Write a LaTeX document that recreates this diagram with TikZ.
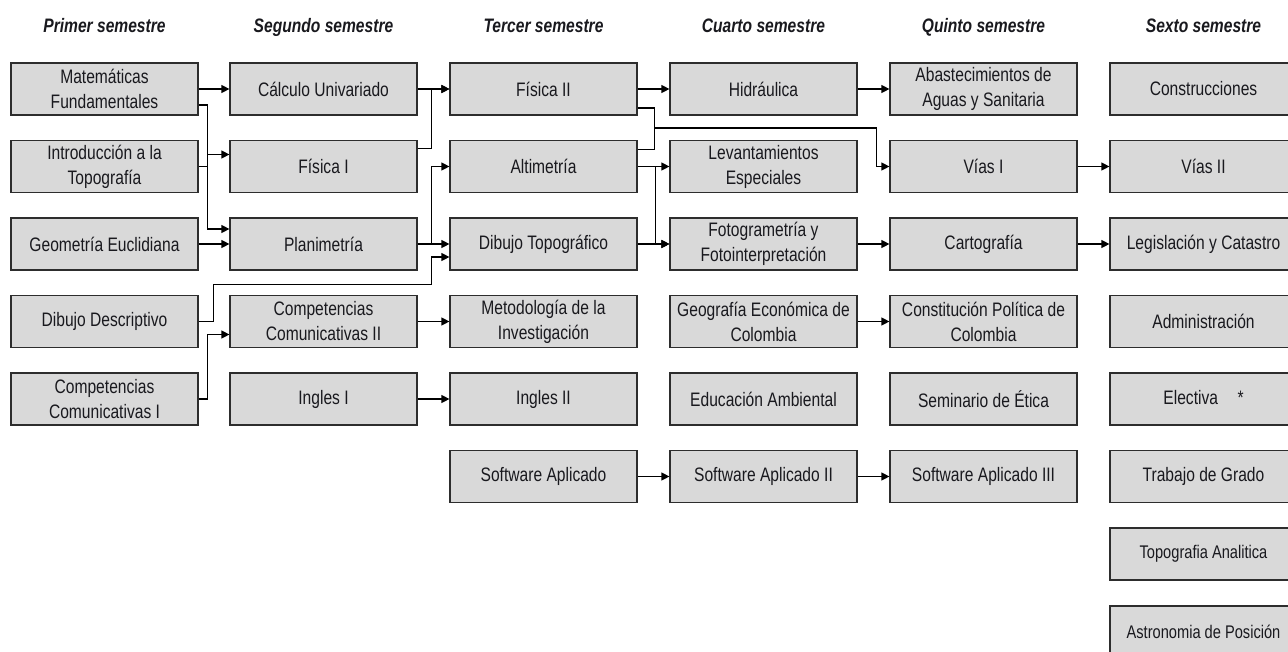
\documentclass[tikz,border=0pt]{standalone}
\usepackage{fontspec}
\setmainfont{Liberation Sans}[FakeStretch=0.8]
\usetikzlibrary{arrows.meta,calc}
\definecolor{boxfill}{RGB}{217,217,217}
\definecolor{boxline}{RGB}{45,45,45}
\definecolor{txt}{RGB}{25,25,30}
\begin{document}
\begin{tikzpicture}[x=1pt,y=-1pt,
  course/.style={draw=boxline, line width=1.2pt, fill=boxfill, minimum width=187pt, minimum height=52pt, inner sep=0pt, align=center, font=\fontsize{19.5}{25}\selectfont, text=txt},
  small/.style={font=\fontsize{18.3}{24}\selectfont},
  head/.style={font=\fontsize{19.5}{22}\selectfont\bfseries\itshape, text=txt, anchor=base},
  arr/.style={line width=1.2pt, -{Triangle[length=8pt,width=8pt]}},
  link/.style={line width=1.2pt}]
\useasboundingbox (0,0) rectangle (1288,651);
\clip (0,0) rectangle (1288,651);
% headers
\node[head] (h1) at (104.5,32) {Primer semestre};
\node[head] (h2) at (323.5,32) {Segundo semestre};
\node[head] (h3) at (543.5,32) {Tercer semestre};
\node[head] (h4) at (763.5,32) {Cuarto semestre};
\node[head] (h5) at (983.5,32) {Quinto semestre};
\node[head] (h6) at (1203.5,32) {Sexto semestre};
% column 1
\node[course] (matfun)  at (104.5,89)    {Matemáticas\\Fundamentales};
\node[course] (intro)   at (104.5,166.5) {Introducción a la\\Topografía};
\node[course] (geom)    at (104.5,244)   {Geometría Euclidiana};
\node[course] (dibdesc) at (104.5,321.5) {Dibujo Descriptivo};
\node[course] (comp1)   at (104.5,399)   {Competencias\\Comunicativas I};
% column 2
\node[course] (calc)  at (323.5,89)    {Cálculo Univariado};
\node[course] (fis1)  at (323.5,166.5) {Física I};
\node[course] (plan)  at (323.5,244)   {Planimetría};
\node[course] (comp2) at (323.5,321.5) {Competencias\\Comunicativas II};
\node[course] (ing1)  at (323.5,399)   {Ingles I\strut};
% column 3
\node[course] (fis2)   at (543.5,89)    {Física II};
\node[course] (alti)   at (543.5,166.5) {Altimetría};
\node[course] (dibtop) at (543.5,244)   {Dibujo Topográfico};
\node[course] (metod)  at (543.5,321.5) {Metodología de la\\Investigación};
\node[course] (ing2)   at (543.5,399)   {Ingles II\strut};
\node[course] (soft1)  at (543.5,476.5) {Software Aplicado};
% column 4
\node[course] (hidra)  at (763.5,89)    {Hidráulica};
\node[course] (levant) at (763.5,166.5) {Levantamientos\\Especiales};
\node[course] (fotog)  at (763.5,244)   {Fotogrametría y\\Fotointerpretación};
\node[course] (geoeco) at (763.5,321.5) {Geografía Económica de\\Colombia};
\node[course] (eduamb) at (763.5,399)   {Educación Ambiental};
\node[course] (soft2)  at (763.5,476.5) {Software Aplicado II};
% column 5
\node[course] (abast) at (983.5,89)    {Abastecimientos de\\Aguas y Sanitaria};
\node[course] (vias1) at (983.5,166.5) {Vías I};
\node[course] (carto) at (983.5,244)   {Cartografía};
\node[course] (const) at (983.5,321.5) {Constitución Política de\\Colombia};
\node[course] (etica) at (983.5,399)   {Seminario de Ética};
\node[course] (soft3) at (983.5,476.5) {Software Aplicado III};
% column 6
\node[course] (constr)   at (1203.5,89)    {Construcciones};
\node[course] (vias2)    at (1203.5,166.5) {Vías II};
\node[course] (legis)    at (1203.5,244)   {Legislación y Catastro};
\node[course] (admin)    at (1203.5,321.5) {Administración};
\node[course] (electiva) at (1203.5,399)   {Electiva\quad*\strut};
\node[course] (trabajo)  at (1203.5,476.5) {Trabajo de Grado};
\node[course,small] (topoan) at (1203.5,554) {Topografia Analitica};
\node[course,small] (astro)  at (1203.5,632) {Astronomia de Posición};
% connectors: column 1 -> 2
\draw[arr] (matfun) -- (calc);
\draw[arr] ([yshift=-16pt]matfun.east) -- ++(9,0) |- ([yshift=15pt]plan.west);
\draw[arr] (intro.east) -- ++(9,0) |- ([yshift=12pt]fis1.west);
\draw[arr] (geom) -- (plan);
\draw[arr] (dibdesc.east) -- ++(15,0) -- ++(0,-37) -| ([xshift=-18pt,yshift=-13pt]dibtop.west) -- ([yshift=-13pt]dibtop.west);
\draw[arr] (comp1.east) -- ++(9,0) |- ([yshift=-13pt]comp2.west);
% column 2 -> 3
\draw[arr] (calc) -- (fis2);
\draw[arr] ([yshift=18pt]fis1.east) -- ++(14,0) |- (fis2.west);
\draw[arr] (plan) -- (dibtop);
\draw[arr] (plan.east) -- ++(14,0) |- (alti.west);
\draw[arr] (comp2) -- (metod);
\draw[arr] (ing1) -- (ing2);
% column 3 -> 4 / 5
\draw[arr] (fis2) -- (hidra);
\draw[arr] ([yshift=-19pt]fis2.east) -- ++(17,0) -- ++(0,20) -| ([xshift=-13pt]vias1.west) -- (vias1.west);
\draw[link] ([yshift=17pt]alti.east) -- ++(17,0) -- ++(0,-21.5);
\draw[arr] (alti) -- (levant);
\draw[arr] (alti.east) -- ++(18,0) |- (fotog.west);
\draw[arr] (dibtop) -- (fotog);
\draw[arr] (soft1) -- (soft2);
% column 4 -> 5
\draw[arr] (hidra) -- (abast);
\draw[arr] (fotog) -- (carto);
\draw[arr] (geoeco) -- (const);
\draw[arr] (soft2) -- (soft3);
% column 5 -> 6
\draw[arr] (vias1) -- (vias2);
\draw[arr] (carto) -- (legis);
\end{tikzpicture}
\end{document}
